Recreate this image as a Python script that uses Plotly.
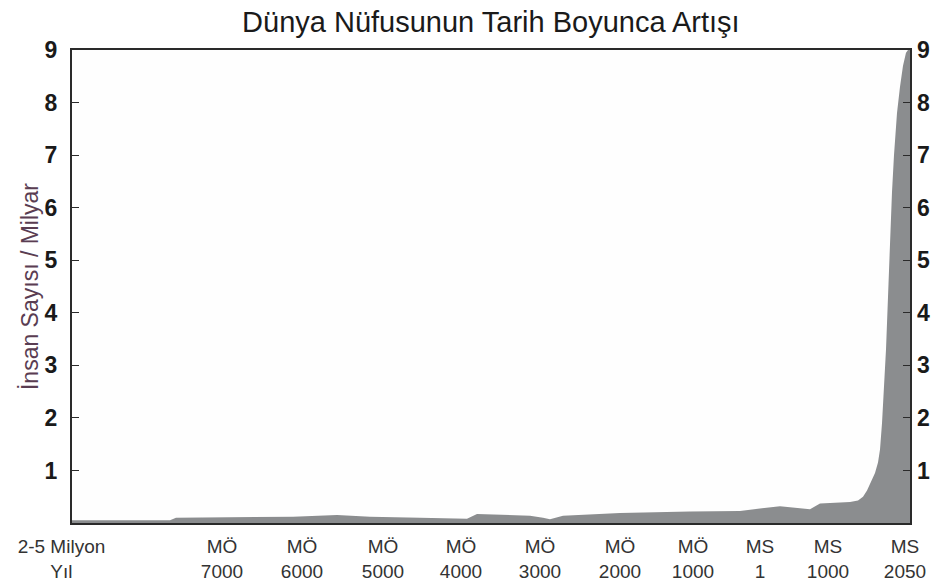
import plotly.graph_objects as go

# Axis positions (axis units along the time scale) and population (billions)
x_pos = [0, 98, 104, 158, 221, 265, 298, 348, 395, 405, 458, 471, 478, 491,
         548, 618, 668, 708, 728, 738, 748, 778, 786, 791, 795, 799, 803, 806,
         808, 810, 812, 814, 816, 818, 820, 822, 825, 828, 831, 834, 836, 838]
population = [0.05, 0.05, 0.10, 0.11, 0.12, 0.15, 0.12, 0.10, 0.08, 0.17, 0.14,
              0.10, 0.07, 0.14, 0.19, 0.22, 0.23, 0.32, 0.28, 0.26, 0.37, 0.40,
              0.43, 0.50, 0.62, 0.78, 0.95, 1.15, 1.4, 1.9, 2.6, 3.3, 4.3, 5.4,
              6.3, 7.0, 7.8, 8.3, 8.7, 8.95, 9.0, 9.0]

tick_pos = [0, 150, 230, 311, 389, 468, 548, 621, 688, 756, 833]
tick_labels = ["2-5 Milyon&nbsp;&nbsp;&nbsp;&nbsp;<br>Yıl&nbsp;&nbsp;&nbsp;&nbsp;",
               "MÖ<br>7000", "MÖ<br>6000", "MÖ<br>5000",
               "MÖ<br>4000", "MÖ<br>3000", "MÖ<br>2000", "MÖ<br>1000",
               "MS<br>1", "MS<br>1000", "MS<br>2050"]
y_ticks = [1, 2, 3, 4, 5, 6, 7, 8, 9]

sans = "Liberation Sans, Arial, sans-serif"

fig = go.Figure()
fig.add_trace(go.Scatter(x=x_pos, y=population, mode="lines", fill="tozeroy",
                         fillcolor="#8b8d8f", line=dict(width=0, color="#8b8d8f"),
                         hoverinfo="skip", showlegend=False))
fig.add_trace(go.Scatter(x=x_pos, y=population, mode="lines", yaxis="y2",
                         line=dict(width=0), opacity=0, hoverinfo="skip",
                         showlegend=False))

fig.update_layout(
    width=935, height=580,
    margin=dict(l=72, r=25, t=50, b=57, autoexpand=False),
    paper_bgcolor="white", plot_bgcolor="#fefefe",
    title=dict(text="Dünya Nüfusunun Tarih Boyunca Artışı", x=0.525, xanchor="center",
               y=0.962, yanchor="middle",
               font=dict(family=sans, size=29, color="#1a1a1a")),
    xaxis=dict(range=[0, 838], tickvals=tick_pos, ticktext=tick_labels,
               showgrid=False, zeroline=False, ticks="", automargin=False,
               showline=True, linecolor="#2a2a2a", linewidth=2, mirror=True,
               ticklabelstandoff=5,
               tickfont=dict(family=sans, size=19, color="#333333")),
    yaxis=dict(range=[0, 9], tickvals=y_ticks, showgrid=False, zeroline=False,
               ticks="inside", ticklen=7, tickcolor="#2a2a2a", tickwidth=1,
               automargin=False, ticklabelstandoff=8,
               showline=True, linecolor="#2a2a2a", linewidth=2, mirror=True,
               tickfont=dict(family=sans, size=23, color="#1a1a1a", weight="bold"),
               title=dict(text="İnsan Sayısı / Milyar", standoff=0,
                          font=dict(family=sans, size=23, color="#5a3d52"))),
    yaxis2=dict(range=[0, 9], tickvals=y_ticks, overlaying="y", side="right",
                showgrid=False, zeroline=False, ticks="inside", ticklen=7,
                tickcolor="#2a2a2a", automargin=False, ticklabelstandoff=6,
                tickfont=dict(family=sans, size=23, color="#1a1a1a", weight="bold")),
)

fig.write_html("out.html", config={"displayModeBar": False},
               post_script="document.body.style.margin='0';"
                           "document.body.style.overflow='hidden';")
